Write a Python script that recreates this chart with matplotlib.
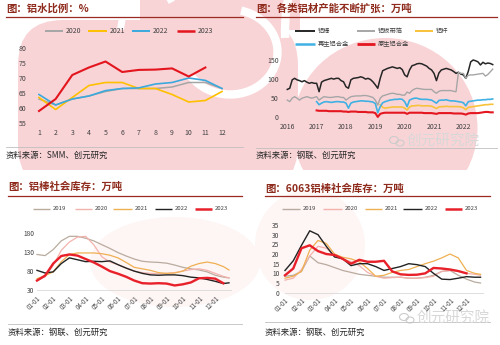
import numpy as np
import matplotlib.pyplot as plt
from matplotlib.lines import Line2D
from matplotlib.patches import Ellipse, Arc, Rectangle, FancyBboxPatch

plt.rcParams['font.family'] = ['Noto Sans CJK SC', 'DejaVu Sans']

W, H = 500, 345

# ---- panel 1: 铝水比例 (%)
months = list(range(1, 13))
ratio_2020 = [63, 61, 63, 64, 65.5, 66.5, 66.5, 66.5, 67, 68.5, 68.5, 66.5]
ratio_2021 = [63.5, 59.5, 63.5, 67.5, 68.5, 68.5, 66.5, 66.5, 64.5, 62, 62.5, 65.5]
ratio_2022 = [64.5, 61, 63, 64, 65.8, 66.5, 66.7, 68, 68.5, 70, 69.2, 66.5]
ratio_2023 = [59, 63, 71, 73.5, 75.5, 72, 72.7, 72.8, 73.2, 70.5, 73.5]

# ---- panel 2: 各类铝材产能 (万吨), monthly from 2016-01
bar_rod = [73, 76, 98, 102, 98, 96, 93, 96, 92, 89, 91, 89,
           89, 67, 92, 96, 98, 100, 102, 100, 102, 102, 96, 93,
           80, 76, 98, 102, 103, 104, 106, 104, 100, 102, 99, 93,
           85, 76, 102, 122, 125, 128, 130, 132, 130, 128, 130, 125,
           111, 106, 124, 135, 137, 140, 141, 140, 137, 134, 128, 124,
           115, 96, 116, 124, 126, 128, 126, 124, 120, 115, 118, 113,
           111, 102, 120, 145, 150, 148, 145, 137, 144, 140, 142, 141,
           138]
sheet_foil = [45, 41, 50, 54, 50, 45, 50, 52, 54, 52, 50, 52,
              54, 45, 50, 54, 53, 52, 52, 53, 54, 54, 52, 52,
              45, 50, 54, 55, 56, 56, 56, 57, 57, 56, 54, 52,
              45, 32, 50, 56, 58, 60, 62, 63, 62, 60, 60, 58,
              58, 66, 63, 70, 74, 76, 75, 74, 73, 73, 73, 73,
              67, 63, 68, 70, 70, 70, 70, 70, 68, 67, 118, 115,
              115, 102, 110, 111, 111, 112, 113, 114, 115, 108, 112, 119,
              126]
# from 2017-01
recycled = [41, 33, 37, 40, 41, 40, 39, 40, 41, 41, 40, 40,
            37, 24, 37, 40, 41, 42, 43, 43, 42, 42, 41, 40,
            36, 12, 28, 38, 41, 43, 45, 46, 47, 47, 48, 47,
            41, 28, 45, 48, 50, 50, 48, 47, 47, 47, 46, 45,
            41, 37, 44, 45, 45, 46, 44, 43, 43, 42, 41, 40,
            38, 30, 41, 42, 43, 44, 45, 45, 46, 46, 47, 47,
            48]
primary = [18, 17, 17, 17, 17, 16, 16, 16, 16, 16, 16, 15,
           15, 14, 15, 15, 15, 14, 14, 14, 14, 13, 13, 13,
           11, 1, 9, 11, 12, 12, 12, 12, 12, 12, 12, 12,
           12, 9, 12, 12, 12, 12, 12, 12, 11, 11, 11, 11,
           10, 9, 11, 11, 11, 11, 11, 11, 10, 10, 10, 10,
           9, 7, 10, 11, 11, 11, 11, 12, 13, 14, 14, 13,
           13]
# from 2019-03
wire_rod = [33, 26, 24, 25, 26, 27, 27, 27, 27, 27,
            24, 19, 27, 30, 30, 31, 31, 30, 30, 30, 30, 29,
            26, 23, 27, 28, 28, 29, 28, 28, 28, 28, 28, 27,
            25, 20, 26, 27, 28, 29, 30, 31, 32, 33, 33, 34,
            34]
years = [2016, 2017, 2018, 2019, 2020, 2021, 2022]

# ---- panels 3/4: half-month points, month index 0 = 01-01
m_grid = [0, 0.5, 1, 1.5, 2, 2.5, 3, 3.5, 4, 4.5, 5, 5.5, 6, 6.5,
          7, 7.5, 8, 8.5, 9, 9.5, 10, 10.5, 11, 11.5, 11.85]
day_labels = ['01-01', '02-01', '03-01', '04-01', '05-01', '06-01',
              '07-01', '08-01', '09-01', '10-01', '11-01', '12-01']

inv_2019 = [124, 121, 137, 160, 172, 172, 167, 160, 150, 140, 129, 120, 112,
            106, 104, 103, 101, 96, 90, 86, 83, 78, 69, 64, 62]
inv_2020 = [55, 65, 95, 135, 157, 170, 172, 150, 118, 104, 97, 88, 80,
            76, 74, 73, 74, 76, 80, 84, 86, 82, 74, 66, 62]
inv_2021 = [60, 68, 78, 105, 124, 128, 128, 128, 126, 122, 115, 103, 90,
            86, 82, 76, 74, 75, 80, 93, 100, 104, 100, 92, 83]
inv_2022 = [82, 75, 78, 100, 115, 110, 105, 106, 105, 107, 97, 88, 80,
            74, 70, 69, 70, 70, 68, 64, 62, 58, 53, 47, 49]
inv_2023 = [55, 68, 100, 120, 124, 121, 112, 103, 92, 80, 73, 65, 55,
            48, 47, 48, 47, 42, 45, 50, 61, 62, 60, 48]

s6063_2019 = [8.5, 9, 11, 19, 15.5, 14.5, 13, 11.5, 10.5, 9.5, 9, 8.5, 8,
              8, 8, 7.5, 7.5, 8, 9, 11, 11.5, 9, 7, 5.5, 5]
s6063_2020 = [6.5, 7.5, 12, 19, 24, 23, 19.5, 17.5, 16, 14, 10.5, 8.5, 7.5,
              7.8, 8, 7.5, 7.5, 7.8, 8.5, 11, 11.5, 11, 10, 9.5, 9]
s6063_2021 = [7.5, 8.5, 11, 22, 27, 25.5, 20, 18.3, 17.5, 16, 12.5, 8.5, 9,
              10.5, 11.5, 12, 13.5, 15, 16.3, 18, 20, 18, 11.5, 10, 9.5]
s6063_2022 = [11.5, 16.5, 24.5, 32, 30, 24, 18.5, 17.5, 14, 15, 15, 13.5, 11.5,
              12.5, 13.5, 15, 14.5, 13.5, 10, 7, 6.8, 7.5, 8.3, 8, 8]
s6063_2023 = [9, 12.5, 23, 24.5, 21.5, 20, 19.5, 17.5, 15, 17, 16, 16, 16.5,
              11, 9.5, 9.2, 9.3, 10, 12.8, 12.5, 12, 11.2, 10]

TITLE_C = '#8e2b1c'
RULE_C = '#9a2a22'
PINK = '#f9d4d7'
TICK_C = '#404040'

fig = plt.figure(figsize=(5, 3.45), dpi=100)
bg = fig.add_axes([0, 0, 1, 1])
bg.set_xlim(0, W)
bg.set_ylim(H, 0)
bg.axis('off')

# watermark logo, rough
clip_top = Rectangle((0, 0), W, 170, transform=bg.transData)
logo = [FancyBboxPatch((18, 20), 280, 170, boxstyle='round,pad=0,rounding_size=45',
                       color=PINK, lw=0),
        Rectangle((140, 0), 160, 30, color=PINK, lw=0),
        Ellipse((385, 128), 185, 180, color=PINK, lw=0)]
for p in logo:
    bg.add_patch(p)
    p.set_clip_path(clip_top)
for p in [Arc((230, 52), 95, 85, theta1=-75, theta2=150, color='white', lw=6),
          Arc((150, 40), 60, 110, theta1=200, theta2=300, color='white', lw=5),
          Arc((330, 30), 90, 170, theta1=170, theta2=260, color='white', lw=6)]:
    bg.add_patch(p)
    p.set_clip_path(clip_top)
bg.add_patch(Ellipse((175, 262), 170, 90, color='#fef5f5', lw=0))
bg.add_patch(Ellipse((310, 245), 110, 110, color='#fef5f5', lw=0))


def px_axes(l, t, r, b):
    ax = fig.add_axes([l / W, 1 - b / H, (r - l) / W, (b - t) / H])
    ax.set_facecolor('none')
    for s in ax.spines.values():
        s.set_visible(False)
    ax.tick_params(length=0, labelsize=5, labelcolor=TICK_C)
    return ax


def header(x0, x1, y_title, y_rule, title, y_src_rule, y_src, source):
    bg.text(x0, y_title, title, fontsize=7.5, fontweight='bold', color=TITLE_C,
            va='center', ha='left')
    bg.add_line(Line2D([x0, x1], [y_rule, y_rule], color=RULE_C, lw=0.9))
    bg.add_line(Line2D([x0, x1], [y_src_rule, y_src_rule], color='#bfbfbf', lw=0.6))
    bg.text(x0, y_src, source, fontsize=6, color='#262626', va='center', ha='left')


def legend_item(x0, x1, y, color, lw, label, size=5):
    bg.add_line(Line2D([x0, x1], [y, y], color=color, lw=lw, solid_capstyle='butt'))
    bg.text(x1 + 3, y, label, fontsize=size, color=TICK_C, va='center', ha='left')


def watermark(x, y):
    bg.add_patch(Ellipse((x, y - 1), 9, 7, fill=False, ec='#cccccc', lw=0.8))
    bg.add_patch(Ellipse((x + 6, y + 2), 8, 6, fill=False, ec='#cccccc', lw=0.8))
    bg.text(x + 13, y, '创元研究院', fontsize=10.5, color='#d8d8d8', va='center', ha='left')


# ---------- panel 1
header(6, 243, 8.5, 16.7, '图：铝水比例：%', 146.7, 155, '资料来源：SMM、创元研究')
c1 = {'2020': '#a6a6a6', '2021': '#ffc000', '2022': '#3ba9dd', '2023': '#e3151d'}
legend_item(45, 63, 31, c1['2020'], 1.4, '2020')
legend_item(88, 107, 31, c1['2021'], 1.4, '2021')
legend_item(132, 150, 31, c1['2022'], 1.4, '2022')
legend_item(177, 195, 31, c1['2023'], 1.8, '2023')

ax1 = px_axes(39, 48, 222, 123)
ax1.plot(months, ratio_2020, color=c1['2020'], lw=1.1, clip_on=False)
ax1.plot(months, ratio_2021, color=c1['2021'], lw=1.2, clip_on=False)
ax1.plot(months, ratio_2022, color=c1['2022'], lw=1.2, clip_on=False)
ax1.plot(months[:len(ratio_2023)], ratio_2023, color=c1['2023'], lw=1.5, clip_on=False)
ax1.set_xlim(1, 12)
ax1.set_ylim(55, 80)
ax1.set_xticks(months)
ax1.set_yticks([55, 60, 65, 70, 75, 80])
ax1.tick_params(axis='y', pad=9)
ax1.tick_params(axis='x', pad=4)

# ---------- panel 2
header(256, 497, 8.5, 16.7, '图：各类铝材产能不断扩张：万吨', 147.5, 155, '资料来源：钢联、创元研究')
watermark(394, 141)
c2 = {'rod': '#262626', 'sheet': '#a6a6a6', 'wire': '#f8c33a',
      'rec': '#3fb1e3', 'pri': '#e4161f'}
legend_item(295, 315, 31, c2['rod'], 1.4, '铝棒', 4.5)
legend_item(357, 375, 31, c2['sheet'], 1.4, '铝板带箔', 4.5)
legend_item(415, 433, 31, c2['wire'], 1.4, '铝杆', 4.5)
legend_item(295, 315, 44, c2['rec'], 1.8, '再生铝合金', 4.5)
legend_item(357, 375, 44, c2['pri'], 2.0, '原生铝合金', 4.5)

t_all = 2016 + np.arange(len(bar_rod)) / 12
t_2017 = 2017 + np.arange(len(recycled)) / 12
t_2019 = 2019 + (np.arange(len(wire_rod)) + 2) / 12

ax2 = px_axes(287.3, 60, 492.7, 117.3)
ax2.plot(t_all, bar_rod, color=c2['rod'], lw=1.1, clip_on=False)
ax2.plot(t_all, sheet_foil, color=c2['sheet'], lw=1.0, clip_on=False)
ax2.plot(t_2019, wire_rod, color=c2['wire'], lw=1.2, clip_on=False)
ax2.plot(t_2017, recycled, color=c2['rec'], lw=1.2, clip_on=False)
ax2.plot(t_2017, primary, color=c2['pri'], lw=1.5, clip_on=False)
ax2.set_xlim(2016, 2023)
ax2.set_ylim(0, 150)
ax2.set_xticks(years)
ax2.set_yticks([0, 50, 100, 150])
ax2.tick_params(axis='y', pad=6)
ax2.tick_params(axis='x', pad=4)

# ---------- panels 3/4 shared colours
c3 = {'2019': '#b9ab9e', '2020': '#f3b3ad', '2021': '#efb052',
      '2022': '#222222', '2023': '#e8202a'}


def inventory(ax, series):
    for yr, vals in series:
        lw = 1.7 if yr == '2023' else (1.0 if yr == '2022' else 0.9)
        ax.plot(m_grid[:len(vals)], vals, color=c3[yr], lw=lw, clip_on=False)
    ax.set_xlim(0, 12)
    ax.set_xticks(range(12))
    ax.set_xticklabels(day_labels, rotation=45, ha='right', va='top',
                       rotation_mode='anchor', fontsize=4.5)
    ax.tick_params(axis='y', labelsize=4.8)
    ax.spines['bottom'].set_visible(True)
    ax.spines['bottom'].set_color('#d9d9d9')
    ax.spines['bottom'].set_linewidth(0.6)


# ---------- panel 3
header(8, 242, 187, 196, '图：铝棒社会库存：万吨', 323.7, 332, '资料来源：钢联、创元研究')
legend_item(33, 50, 208.7, c3['2019'], 1.0, '2019', 4.3)
legend_item(75, 92, 208.7, c3['2020'], 1.0, '2020', 4.3)
legend_item(113, 132, 208.7, c3['2021'], 1.0, '2021', 4.3)
legend_item(155, 172, 208.7, c3['2022'], 1.0, '2022', 4.3)
legend_item(195, 212, 208.7, c3['2023'], 1.8, '2023', 4.3)

ax3 = px_axes(37, 233.3, 231.4, 290)
inventory(ax3, [('2019', inv_2019), ('2020', inv_2020), ('2021', inv_2021),
                ('2022', inv_2022), ('2023', inv_2023)])
ax3.set_ylim(30, 180)
ax3.set_yticks([30, 80, 130, 180])
ax3.tick_params(axis='y', pad=2)
ax3.tick_params(axis='x', pad=3)

# ---------- panel 4
header(265, 490, 188.7, 196, '图：6063铝棒社会库存：万吨', 322, 332, '资料来源：钢联、创元研究')
watermark(404, 318)
legend_item(282, 300, 208.7, c3['2019'], 1.0, '2019', 4.3)
legend_item(323, 342, 208.7, c3['2020'], 1.0, '2020', 4.3)
legend_item(365, 382, 208.7, c3['2021'], 1.0, '2021', 4.3)
legend_item(403, 422, 208.7, c3['2022'], 1.0, '2022', 4.3)
legend_item(445, 462, 208.7, c3['2023'], 1.8, '2023', 4.3)

ax4 = px_axes(285, 225, 483, 292.7)
inventory(ax4, [('2019', s6063_2019), ('2020', s6063_2020), ('2021', s6063_2021),
                ('2022', s6063_2022), ('2023', s6063_2023)])
ax4.set_ylim(0, 35)
ax4.set_yticks([0, 5, 10, 15, 20, 25, 30, 35])
ax4.tick_params(axis='y', pad=4)
ax4.tick_params(axis='x', pad=3)

fig.savefig('out.png', dpi=100)
